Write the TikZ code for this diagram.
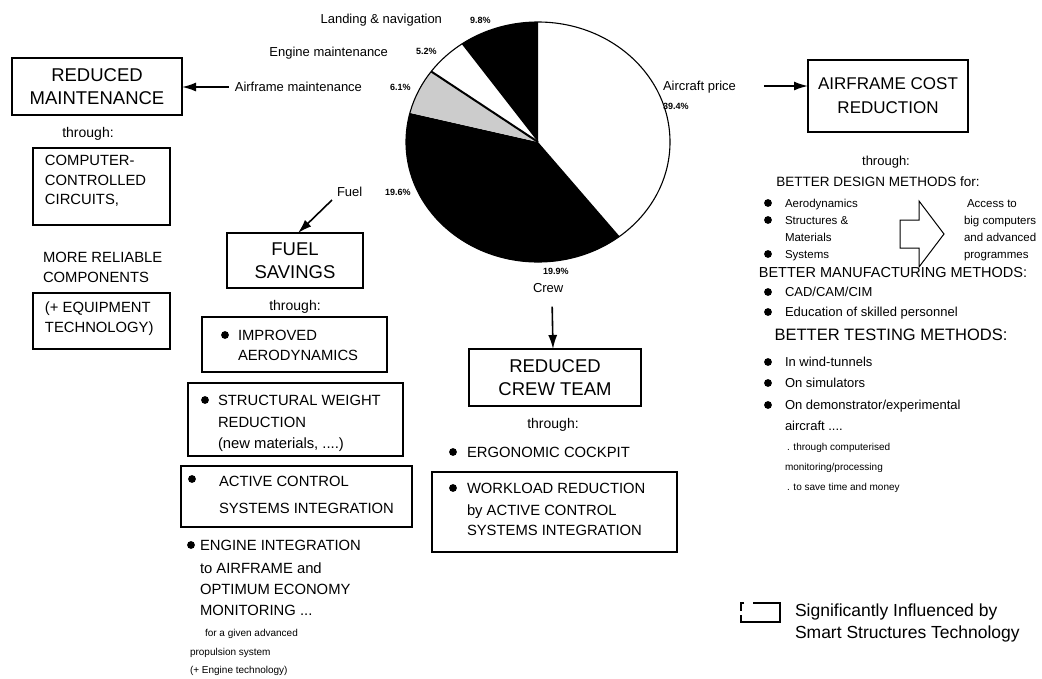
\documentclass[tikz,border=0pt]{standalone}
\usepackage{fontspec}
\setmainfont{Liberation Sans}
\usetikzlibrary{arrows.meta,calc}
\tikzset{
  every node/.style={inner sep=0pt, outer sep=0pt},
  box/.style={draw, line width=1.1pt},
  ttl/.style={font=\fontsize{18.5}{23}\selectfont},
  bx/.style={font=\fontsize{14.8}{17}\selectfont, text height=10.6pt, text depth=0pt},
  thr/.style={font=\fontsize{14}{16}\selectfont, text height=10pt, text depth=0pt},
  md/.style={font=\fontsize{13}{15}\selectfont, text height=9.4pt, text depth=0pt},
  pl/.style={font=\fontsize{13}{15}\selectfont, text height=9.4pt, text depth=0pt},
  sm/.style={font=\fontsize{11.5}{13}\selectfont, text height=8.3pt, text depth=0pt},
  tn/.style={font=\fontsize{10}{12}\selectfont, text height=7.2pt, text depth=0pt},
  pc/.style={font=\fontsize{9}{11}\selectfont\bfseries, text height=6.5pt, text depth=0pt},
  lg/.style={font=\fontsize{17.5}{20}\selectfont, text height=12.6pt, text depth=0pt},
  bul/.style={circle, fill, minimum size=7.8pt},
  arr/.style={line width=1.6pt, -{Latex[length=14pt,width=9pt]}},
}
\begin{document}
\begin{tikzpicture}[x=1pt,y=-1pt]
\fill[white] (0,0) rectangle (1042,678);
\useasboundingbox (0,0) rectangle (1042,678);

% ---------------- pie chart (angles mirrored because y points down) ----------------
\begin{scope}[shift={(538,142)}]
  \fill[white] (0,0) -- (-90:132 and 120) arc[start angle=-90, end angle=51.84, x radius=132, y radius=120] -- cycle;
  \fill[black] (0,0) -- (51.84:132 and 120) arc[start angle=51.84, end angle=194.04, x radius=132, y radius=120] -- cycle;
  \fill[black!20] (0,0) -- (194.04:132 and 120) arc[start angle=194.04, end angle=216, x radius=132, y radius=120] -- cycle;
  \fill[white] (0,0) -- (216:132 and 120) arc[start angle=216, end angle=234.72, x radius=132, y radius=120] -- cycle;
  \fill[black] (0,0) -- (234.72:132 and 120) arc[start angle=234.72, end angle=270, x radius=132, y radius=120] -- cycle;
  \draw[line width=2pt] (0,0) -- (216:132 and 120);
  \draw[line width=1.1pt] (0,0) ellipse[x radius=132, y radius=120];
\end{scope}

% pie labels
\node[pl, anchor=east] (lln) at (442,19) {Landing \& navigation};
\node[pc, anchor=west] (pln) at (470,20) {9.8\%};
\node[pl, anchor=east] (lem) at (388,52) {Engine maintenance};
\node[pc, anchor=west] (pem) at (416,51) {5.2\%};
\node[pl, anchor=east] (laf) at (362,87) {Airframe maintenance};
\node[pc, anchor=west] (paf) at (390,87) {6.1\%};
\node[pl, anchor=west] (lap) at (663,86) {Aircraft price};
\node[pc, anchor=west] (pap) at (663,106) {39.4\%};
\node[pl, anchor=west] (lfu) at (337,192) {Fuel};
\node[pc, anchor=west] (pfu) at (385,192) {19.6\%};
\node[pc, anchor=west] (pcr) at (543,271) {19.9\%};
\node[pl, anchor=west] (lcr) at (533,288) {Crew};

% ---------------- left column ----------------
\node[box, ttl, align=center, minimum width=170pt, minimum height=57pt] (rm) at (97,86.5) {REDUCED\\MAINTENANCE};
\node[thr] (thr1) at (88,132) {through:};
\node[box, minimum width=137pt, minimum height=77pt] (ccc) at (101.5,186.5) {};
\node[bx, anchor=west] (c1) at (45,160) {COMPUTER-};
\node[bx, anchor=west] (c2) at (45,180) {CONTROLLED};
\node[bx, anchor=west] (c3) at (45,199) {CIRCUITS,};
\node[bx, anchor=west] (mr1) at (43,257) {MORE RELIABLE};
\node[bx, anchor=west] (mr2) at (43,277) {COMPONENTS};
\node[box, minimum width=137pt, minimum height=56pt] (eq) at (101.5,321) {};
\node[bx, anchor=west] (e1) at (45,307) {(+ EQUIPMENT};
\node[bx, anchor=west] (e2) at (45,327) {TECHNOLOGY)};

% ---------------- fuel column ----------------
\node[box, ttl, align=center, minimum width=136pt, minimum height=55pt] (fs) at (295,260.5) {FUEL\\SAVINGS};
\node[thr] (thr2) at (295,305) {through:};
\node[box, minimum width=185pt, minimum height=55pt] (imp) at (294.5,344.5) {};
\node[bul] (bi) at (225,335) {};
\node[bx, anchor=west] (i1) at (238,335) {IMPROVED};
\node[bx, anchor=west] (i2) at (238,355) {AERODYNAMICS};
\node[box, minimum width=215pt, minimum height=73pt] (swr) at (295.5,419.5) {};
\node[bul] (bs) at (205,400) {};
\node[bx, anchor=west] (s1) at (218,400) {STRUCTURAL WEIGHT};
\node[bx, anchor=west] (s2) at (218,422) {REDUCTION};
\node[bx, anchor=west] (s3) at (218,443) {(new materials, ....)};
\node[box, minimum width=231pt, minimum height=61pt] (acs) at (296.5,496.5) {};
\node[bul] (ba) at (192,479) {};
\node[bx, anchor=west] (a1) at (219,481) {ACTIVE CONTROL};
\node[bx, anchor=west] (a2) at (219,508) {SYSTEMS INTEGRATION};
\node[bul] (be) at (191,545) {};
\node[bx, anchor=west] (g1) at (200,545) {ENGINE INTEGRATION};
\node[bx, anchor=west] (g2) at (200,568) {to AIRFRAME and};
\node[bx, anchor=west] (g3) at (200,589) {OPTIMUM ECONOMY};
\node[bx, anchor=west] (g4) at (200,610) {MONITORING ...};
\node[tn, anchor=west] (g5) at (205,633) {for a given advanced};
\node[tn, anchor=west] (g6) at (190,652) {propulsion system};
\node[tn, anchor=west] (g7) at (190,670) {(+ Engine technology)};

% ---------------- crew column ----------------
\node[box, ttl, align=center, minimum width=172pt, minimum height=57pt] (crb) at (555,377.5) {REDUCED\\CREW TEAM};
\node[thr] (thr3) at (553,423) {through:};
\node[bul] (bc) at (453,452) {};
\node[bx, anchor=west] (k1) at (467,452) {ERGONOMIC COCKPIT};
\node[box, minimum width=245pt, minimum height=80pt] (wlr) at (554.5,512) {};
\node[bul] (bw) at (453,488) {};
\node[bx, anchor=west] (w1) at (467,488) {WORKLOAD REDUCTION};
\node[bx, anchor=west] (w2) at (467,510) {by ACTIVE CONTROL};
\node[bx, anchor=west] (w3) at (467,530) {SYSTEMS INTEGRATION};

% ---------------- right column ----------------
\node[box, font=\fontsize{17}{24}\selectfont, align=center, minimum width=160pt, minimum height=72pt] (afc) at (888,96) {AIRFRAME COST\\REDUCTION};
\node[thr, font=\fontsize{13}{15}\selectfont] (thr4) at (886,160) {through:};
\node[font=\fontsize{13.5}{16}\selectfont, text height=9.7pt, text depth=0pt] (bdm) at (878,182) {BETTER DESIGN METHODS for:};
\node[bul] (r1b) at (768,203) {};
\node[sm, anchor=west] (r1) at (785,203) {Aerodynamics};
\node[bul] (r2b) at (768,220) {};
\node[sm, anchor=west] (r2) at (785,220) {Structures \&};
\node[sm, anchor=west] (r3) at (785,237) {Materials};
\node[bul] (r4b) at (768,254) {};
\node[sm, anchor=west] (r4) at (785,254) {Systems};
\draw[line width=1pt] (900,220) -- (919,220) -- (919,201) -- (944,234) -- (919,267) -- (919,248) -- (900,248) -- cycle;
\node[sm, anchor=west] (q1) at (967,203) {Access to};
\node[sm, anchor=west] (q2) at (964,220) {big computers};
\node[sm, anchor=west] (q3) at (964,237) {and advanced};
\node[sm, anchor=west] (q4) at (964,254) {programmes};
\node[font=\fontsize{14.5}{17}\selectfont, text height=10.4pt, text depth=0pt] (bmm) at (893,272) {BETTER MANUFACTURING METHODS:};
\node[bul] (m1b) at (768,292) {};
\node[md, anchor=west] (m1) at (785,292) {CAD/CAM/CIM};
\node[bul] (m2b) at (768,312) {};
\node[md, anchor=west] (m2) at (785,312) {Education of skilled personnel};
\node[font=\fontsize{16.5}{19}\selectfont, text height=11.9pt, text depth=0pt] (btm) at (891,335) {BETTER TESTING METHODS:};
\node[bul] (t1b) at (768,362) {};
\node[md, anchor=west] (t1) at (785,362) {In wind-tunnels};
\node[bul] (t2b) at (768,383) {};
\node[md, anchor=west] (t2) at (785,383) {On simulators};
\node[bul] (t3b) at (768,405) {};
\node[md, anchor=west] (t3) at (785,405) {On demonstrator/experimental};
\node[md, anchor=west] (t4) at (785,426) {aircraft ....};
\node[tn, anchor=west] (t5) at (787,447) {. through computerised};
\node[tn, anchor=west] (t6) at (785,467) {monitoring/processing};
\node[tn, anchor=west] (t7) at (787,487) {. to save time and money};

% ---------------- legend ----------------
\draw[line width=1.2pt] (753,603) -- (780,603) -- (780,622) -- (741,622) -- (741,615);
\draw[line width=1.2pt] (744,603) -- (741,603) -- (741,611);
\node[lg, anchor=west] (lg1) at (795,610) {Significantly Influenced by};
\node[lg, anchor=west] (lg2) at (795,632) {Smart Structures Technology};

% ---------------- arrows ----------------
\draw[arr] ([xshift=-6pt]laf.west) -- (laf.west -| rm.east);
\draw[arr] ([xshift=28pt]lap.east) -- (lap.east -| afc.west);
\draw[arr] ([xshift=-5pt,yshift=-8pt]lfu.west) -- ([xshift=3pt]fs.north);
\draw[arr] ([xshift=4pt,yshift=-14pt]lcr.south) -- ([xshift=-2pt]crb.north);
\end{tikzpicture}
\end{document}
